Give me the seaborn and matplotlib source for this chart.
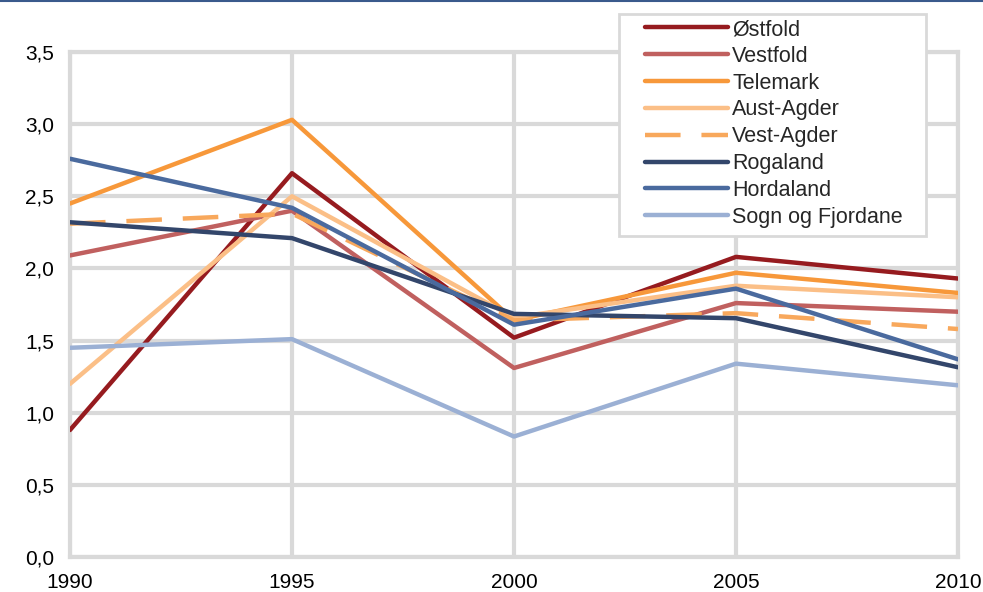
import matplotlib
matplotlib.use("Agg")
import matplotlib.pyplot as plt
import seaborn as sns
import pandas as pd
from matplotlib.lines import Line2D
from matplotlib.patches import Rectangle

years = [1990, 1995, 2000, 2005, 2010]
regions = ["Østfold", "Vestfold", "Telemark", "Aust-Agder", "Vest-Agder",
           "Rogaland", "Hordaland", "Sogn og Fjordane"]
ostfold = [0.88, 2.66, 1.52, 2.08, 1.93]
vestfold = [2.09, 2.40, 1.31, 1.76, 1.70]
telemark = [2.45, 3.03, 1.64, 1.97, 1.83]
aust_agder = [1.20, 2.50, 1.66, 1.88, 1.80]
vest_agder = [2.31, 2.38, 1.64, 1.69, 1.58]
rogaland = [2.32, 2.21, 1.685, 1.655, 1.315]
hordaland = [2.76, 2.42, 1.61, 1.86, 1.37]
sogn = [1.45, 1.51, 0.835, 1.34, 1.19]
series = [ostfold, vestfold, telemark, aust_agder, vest_agder, rogaland, hordaland, sogn]
colors = ["#961B1F", "#C0605F", "#F7983A", "#FBBF87", "#F8A85C",
          "#33466B", "#4A6A9E", "#9BB0D4"]
yticks = [0.0, 0.5, 1.0, 1.5, 2.0, 2.5, 3.0, 3.5]
ytick_labels = ["0,0", "0,5", "1,0", "1,5", "2,0", "2,5", "3,0", "3,5"]

sns.set_style("white")
plt.rcParams['font.family'] = ['Liberation Sans', 'DejaVu Sans']

W, H = 983, 592
fig = plt.figure(figsize=(W / 100, H / 100), dpi=100)
ax = fig.add_axes([70 / W, 1 - 557 / H, (958 - 70) / W, (557 - 52) / H])

df = pd.DataFrame([(r, y, v) for r, vals in zip(regions, series) for y, v in zip(years, vals)],
                  columns=["region", "year", "value"])

LW = 3.2
handles = []
for r, c in zip(regions, colors):
    sub = df[df.region == r]
    ls = (0, (8, 4.7)) if r == "Vest-Agder" else "-"
    sns.lineplot(data=sub, x="year", y="value", color=c, lw=LW, ax=ax,
                 linestyle=ls, solid_capstyle="round", dash_capstyle="butt",
                 zorder=3)
    handles.append(Line2D([0], [0], color=c, lw=LW, linestyle=ls,
                          solid_capstyle="round", dash_capstyle="butt"))

ax.set_xlim(1990, 2010)
ax.set_ylim(0, 3.5)
ax.set_xticks(years)
ax.set_xticklabels([str(y) for y in years])
ax.set_yticks(yticks)
ax.set_yticklabels(ytick_labels)
ax.set_xlabel("")
ax.set_ylabel("")
ax.grid(True, color="#D9D9D9", lw=3)
ax.set_axisbelow(True)
for s in ax.spines.values():
    s.set_color("#D9D9D9")
    s.set_linewidth(3)
    s.set_zorder(0.5)
ax.tick_params(length=0, labelsize=15, colors="black")
ax.tick_params(axis="y", pad=11.5)
ax.tick_params(axis="x", pad=11.5)

# legend frame
fig.add_artist(Rectangle((619 / W, 1 - 236 / H), (926 - 619) / W, (236 - 14) / H,
                         transform=fig.transFigure, facecolor="white",
                         edgecolor="#D9D9D9", lw=2, zorder=4))

leg = fig.legend(handles, regions, loc="upper left",
                 bbox_to_anchor=(645 / W, 1 - 19 / H), bbox_transform=fig.transFigure,
                 fontsize=15.5, handlelength=3.86, handletextpad=0.19, labelspacing=0.27,
                 frameon=False, borderpad=0, borderaxespad=0)
leg.set_zorder(5)

fig.add_artist(Line2D([0, 1], [1 - 0.5 / H, 1 - 0.5 / H], transform=fig.transFigure,
                      color="#3A5A8C", lw=1.5))

fig.savefig("out.png", dpi=100)
